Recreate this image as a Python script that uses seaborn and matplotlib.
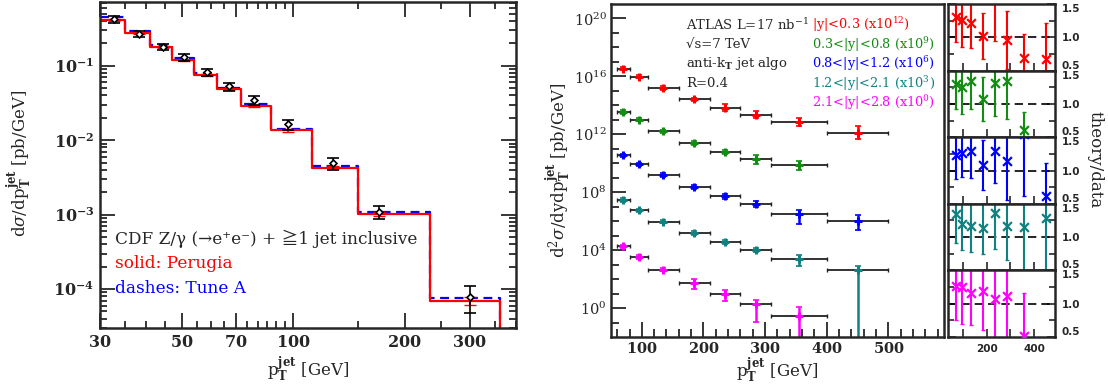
import numpy as np
import matplotlib
matplotlib.use("Agg")
import matplotlib.pyplot as plt
import seaborn as sns
from matplotlib.ticker import FixedLocator, FuncFormatter, NullFormatter

## left panel: CDF Z/gamma + jet
cdf_edges = [30, 35, 41, 47, 54, 62, 72, 87, 112, 150, 234, 361]
perugia = [0.41, 0.272, 0.177, 0.118, 0.075, 0.0487, 0.029, 0.0136, 0.00428, 0.00102, 6.95e-5]
tune_a = [0.455, 0.295, 0.191, 0.128, 0.0805, 0.0507, 0.0306, 0.01426, 0.0045, 0.00109, 7.55e-5]
cdf_pt = [32.7, 38.3, 44.3, 50.5, 58.4, 67.1, 78.1, 97, 128, 170.7, 300]
cdf_data = [0.424, 0.269, 0.18, 0.13, 0.0815, 0.0528, 0.0347, 0.0163, 0.0049, 0.0011, 7.9e-5]
cdf_relerr = [0.11, 0.1, 0.1, 0.1, 0.11, 0.12, 0.13, 0.15, 0.18, 0.2, 0.4]
perugia_relerr = [0.03, 0.03, 0.03, 0.03, 0.03, 0.03, 0.04, 0.04, 0.05, 0.06, 0.11]

## middle panel: ATLAS inclusive jets
atlas_lo = [60, 80, 110, 160, 210, 260, 310, 400]
atlas_hi = [80, 110, 160, 210, 260, 310, 400, 500]
atlas_pt = [70, 95, 135, 185, 235, 285, 355, 450]

red_val = [3.5e16, 9.8e15, 1.6e15, 2.6e14, 7.1e13, 2.2e13, 7.0e12, 1.3e12]
red_up = [0.12, 0.12, 0.12, 0.12, 0.25, 0.25, 0.27, 0.45]
red_dn = [0.12, 0.12, 0.12, 0.12, 0.25, 0.25, 0.27, 0.45]

green_val = [3.5e13, 1.05e13, 1.6e12, 2.5e11, 6.0e10, 1.9e10, 7.2e9]
green_up = [0.12, 0.12, 0.12, 0.12, 0.15, 0.3, 0.3]
green_dn = [0.12, 0.12, 0.12, 0.12, 0.15, 0.3, 0.3]

blue_val = [3.5e10, 8.5e9, 1.5e9, 2.3e8, 5.2e7, 1.6e7, 3.3e6, 1.0e6]
blue_up = [0.12, 0.12, 0.12, 0.12, 0.15, 0.2, 0.28, 0.44]
blue_dn = [0.12, 0.12, 0.12, 0.12, 0.15, 0.25, 0.69, 0.6]

teal_val = [2.9e7, 5.6e6, 9.3e5, 1.5e5, 3.6e4, 9.8e3, 2.3e3, 410]
teal_up = [0.12, 0.12, 0.12, 0.12, 0.12, 0.15, 0.28, 0.28]
teal_dn = [0.12, 0.12, 0.12, 0.12, 0.12, 0.15, 0.46, 9]

mag_val = [1.8e4, 3.4e3, 450, 54, 9.8, 1.8, 0.27]
mag_up = [0.12, 0.12, 0.12, 0.3, 0.28, 0.3, 0.64]
mag_dn = [0.12, 0.12, 0.12, 0.4, 0.51, 1.22, 9]

## right panels: theory/data
rat_red = [1.30, 1.26, 1.21, 1.02, 1.62, 0.96, 0.69, 0.68]
rat_red_err = [0.37, 0.41, 0.37, 0.34, 0.68, 0.43, 0.36, 0.54]
rat_green = [1.30, 1.25, 1.34, 1.08, 1.31, 1.34, 0.61]
rat_green_err = [0.38, 0.40, 0.41, 0.33, 0.49, 0.57, 0.27]
rat_blue = [1.24, 1.26, 1.30, 1.085, 1.29, 1.15, 1.55, 0.62]
rat_blue_err = [0.37, 0.36, 0.41, 0.38, 0.48, 0.59, 0.94, 0.50]
rat_teal = [1.34, 1.19, 1.16, 1.14, 1.36, 1.16, 1.15, 1.28]
rat_teal_err = [0.43, 0.39, 0.39, 0.39, 0.54, 0.51, 0.7, 0.8]
rat_mag = [1.27, 1.25, 1.165, 1.195, 1.065, 1.11, 0.515]
rat_mag_err = [0.51, 0.55, 0.48, 0.585, 0.6, 0.65, 0.65]

rap_labels = [r"|y|<0.3 (x10$^{12}$)", r"0.3<|y|<0.8 (x10$^{9}$)", r"0.8<|y|<1.2 (x10$^{6}$)",
              r"1.2<|y|<2.1 (x10$^{3}$)", r"2.1<|y|<2.8 (x10$^{0}$)"]
colors = ["#ff0000", "#128c12", "#0000ff", "#108080", "#ff00ff"]

sns.set_style("ticks")
plt.rcParams["font.family"] = ["DejaVu Serif", "Noto Sans CJK JP", "DejaVu Sans"]
plt.rcParams["mathtext.fontset"] = "dejavuserif"
plt.rcParams["axes.linewidth"] = 1.8

W, H = 1108, 385
fig = plt.figure(figsize=(W / 100, H / 100), dpi=100)


def box(x0, y0, x1, y1):
    return [x0 / W, 1 - y1 / H, (x1 - x0) / W, (y1 - y0) / H]


def bold_num(v, pos):
    return r"$\mathbf{%g}$" % v


def bold_pow(v, pos):
    return r"$\mathbf{10^{%d}}$" % round(np.log10(v))


## ---------------- left panel
ax1 = fig.add_axes(box(100, 2, 516, 328))
ax1.set_xscale("log")
ax1.set_yscale("log")
sx = cdf_edges + [cdf_edges[-1]]
sns.lineplot(x=sx, y=tune_a + [tune_a[-1], 1e-9], ax=ax1, color="#0000ff", lw=1.6,
             linestyle=(0, (4, 2.5)), drawstyle="steps-post", sort=False, estimator=None)
sns.lineplot(x=sx, y=perugia + [perugia[-1], 1e-9], ax=ax1, color="#ff0000", lw=1.6,
             drawstyle="steps-post", sort=False, estimator=None)
ax1.errorbar(cdf_pt, perugia, yerr=np.array(perugia) * np.array(perugia_relerr),
             fmt="none", ecolor="#ff0000", elinewidth=1.2, capsize=4)
ax1.errorbar(cdf_pt, cdf_data, yerr=np.array(cdf_data) * np.array(cdf_relerr),
             fmt="D", ms=3.5, mfc="white", mec="black", mew=1.2, ecolor="black",
             elinewidth=1.2, capsize=4, capthick=1.2)
ax1.set_xlim(30, 400)
ax1.set_ylim(3e-5, 0.72)
ax1.xaxis.set_major_locator(FixedLocator([30, 50, 70, 100, 200, 300]))
ax1.xaxis.set_minor_locator(FixedLocator([35, 40, 45, 55, 60, 65, 75, 80, 85, 90, 95,
                                          150, 250, 350, 400]))
ax1.xaxis.set_major_formatter(FuncFormatter(bold_num))
ax1.xaxis.set_minor_formatter(NullFormatter())
ax1.yaxis.set_major_locator(FixedLocator([1e-4, 1e-3, 1e-2, 1e-1]))
ax1.yaxis.set_major_formatter(FuncFormatter(bold_pow))
ax1.tick_params(which="both", direction="in", top=True, right=True, width=1.3)
ax1.tick_params(which="major", length=11, labelsize=11.5, pad=4)
ax1.tick_params(which="minor", length=5)
ax1.text(0.035, 0.273, "CDF Z/γ (→e⁺e⁻) + ≧1 jet inclusive",
         transform=ax1.transAxes, fontsize=12.2, va="center")
ax1.text(0.035, 0.197, "solid: Perugia", color="#ff0000", transform=ax1.transAxes,
         fontsize=12.2, va="center")
ax1.text(0.035, 0.12, "dashes: Tune A", color="#0000ff", transform=ax1.transAxes,
         fontsize=12.2, va="center")
fig.text(20 / W, 1 - 163 / H, r"d$\sigma$/dp$_\mathbf{T}^\mathbf{jet}$ [pb/GeV]",
         rotation=90, ha="center", va="center", fontsize=12)
fig.text(308 / W, 1 - 370 / H, r"p$_\mathbf{T}^\mathbf{jet}$ [GeV]",
         ha="center", va="center", fontsize=12)

## ---------------- middle panel
ax2 = fig.add_axes(box(611, 4, 944, 337))
ax2.set_yscale("log")
series = [(red_val, red_up, red_dn), (green_val, green_up, green_dn),
          (blue_val, blue_up, blue_dn), (teal_val, teal_up, teal_dn),
          (mag_val, mag_up, mag_dn)]
for (vals, up, dn), col in zip(series, colors):
    n = len(vals)
    v = np.array(vals)
    pt = np.array(atlas_pt[:n])
    lo = pt - np.array(atlas_lo[:n])
    hi = np.array(atlas_hi[:n]) - pt
    ax2.errorbar(pt, v, xerr=[lo, hi], fmt="none", ecolor="#222222", elinewidth=1.3,
                 capsize=1.5, capthick=1.0)
    ax2.errorbar(pt, v, yerr=[v * (1 - 10 ** -np.array(dn, float)), v * (10 ** np.array(up) - 1)],
                 fmt="none", ecolor=col, elinewidth=1.8, capsize=2, capthick=1.2)
    sns.scatterplot(x=pt, y=v, ax=ax2, marker="+", s=40, color=col, linewidth=2.2, zorder=5)
ax2.set_xlim(50, 590)
ax2.set_ylim(1e-2, 1e21)
ax2.xaxis.set_major_locator(FixedLocator([100, 200, 300, 400, 500]))
ax2.xaxis.set_minor_locator(FixedLocator(np.arange(60, 590, 20)))
ax2.xaxis.set_major_formatter(FuncFormatter(bold_num))
ax2.yaxis.set_major_locator(FixedLocator([1e0, 1e4, 1e8, 1e12, 1e16, 1e20]))
ax2.yaxis.set_minor_locator(FixedLocator([10.0 ** k for k in range(-1, 21)]))
ax2.yaxis.set_minor_formatter(NullFormatter())
ax2.yaxis.set_major_formatter(FuncFormatter(lambda v, p: r"$10^{%d}$" % round(np.log10(v))))
ax2.tick_params(which="both", direction="in", top=False, right=False, width=1.3)
ax2.tick_params(which="major", length=11, pad=3)
ax2.tick_params(axis="x", which="major", labelsize=10.5)
ax2.tick_params(axis="y", which="major", labelsize=10.5)
ax2.tick_params(which="minor", length=6)
info = ["ATLAS L=17 nb$^{-1}$", "√s=7 TeV", r"anti-k$_\mathbf{T}$ jet algo", "R=0.4"]
line_y = [25, 44.5, 64, 83.5, 103]
for txt, yy in zip(info, line_y):
    fig.text(686 / W, 1 - yy / H, txt, fontsize=9.5, va="center")
for txt, yy, col in zip(rap_labels, line_y, colors):
    fig.text(812 / W, 1 - yy / H, txt, fontsize=9.3, va="center", color=col)
fig.text(559 / W, 1 - 170 / H, r"d$^2\sigma$/dydp$_\mathbf{T}^\mathbf{jet}$ [pb/GeV]",
         rotation=90, ha="center", va="center", fontsize=12)
fig.text(777 / W, 1 - 371 / H, r"p$_\mathbf{T}^\mathbf{jet}$ [GeV]",
         ha="center", va="center", fontsize=12)

## ---------------- ratio panels
ratios = [(rat_red, rat_red_err), (rat_green, rat_green_err), (rat_blue, rat_blue_err),
          (rat_teal, rat_teal_err), (rat_mag, rat_mag_err)]
top = 4.0
step = (337 - 4) / 5
for i, ((r, e), col) in enumerate(zip(ratios, colors)):
    ax = fig.add_axes(box(948, top + i * step, 1055, top + (i + 1) * step))
    n = len(r)
    pt = atlas_pt[:n]
    ax.axhline(1.0, color="black", lw=1.2, ls=(0, (5, 3)))
    ax.errorbar(pt, r, yerr=e, fmt="none", ecolor=col, elinewidth=1.5, capsize=1.5, capthick=1)
    sns.scatterplot(x=pt, y=r, ax=ax, marker="x", s=40, color=col, linewidth=1.6, zorder=5)
    ax.set_xlim(36, 488)
    ax.set_ylim(0.5, 1.5)
    ax.set_yticks([0.5, 1.0, 1.5])
    ax.set_yticks([0.75, 1.25], minor=True)
    ax.set_yticklabels(["0.5", "1.0", "1.5"])
    ax.xaxis.set_major_locator(FixedLocator([100, 200, 300, 400]))
    ax.xaxis.set_major_formatter(FuncFormatter(lambda v, p: ("%d" % v) if v in (200, 400) else ""))
    ax.tick_params(which="both", direction="in", left=True, right=True, top=False,
                   labelleft=False, labelright=True, width=1.2)
    ax.tick_params(which="major", length=6, labelsize=7.5, pad=5)
    ax.tick_params(which="minor", length=4)
    for lab in ax.get_yticklabels():
        lab.set_fontweight("bold")
        lab.set_family("DejaVu Sans")
    ticks = ax.yaxis.get_major_ticks()
    ticks[0].label2.set_va("bottom")
    ticks[2].label2.set_va("top")
    if i < 4:
        ax.tick_params(axis="x", labelbottom=False)
    else:
        for lab in ax.get_xticklabels():
            lab.set_fontweight("bold")
            lab.set_family("DejaVu Sans")
fig.text(1095 / W, 1 - 160 / H, "theory/data", rotation=-90, ha="center", va="center",
         fontsize=12)

fig.savefig("out.png", dpi=100)
